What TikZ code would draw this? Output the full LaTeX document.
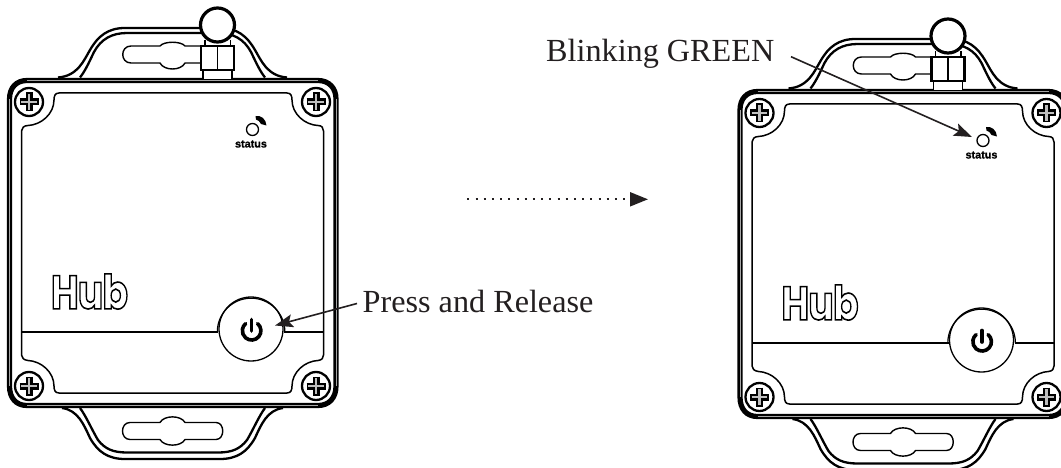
\documentclass[tikz,border=0pt]{standalone}
\usepackage{fontspec}
\usepackage{graphicx}
\usetikzlibrary{arrows.meta}
\setmainfont{Liberation Serif}
\newfontfamily\labelsans{Liberation Sans Bold}[FakeBold=1.2]
\newfontfamily\logofont{Poppins}[BoldFont=Poppins Bold]
\definecolor{ink}{HTML}{231F20}
\newcommand{\outlinetext}[1]{\special{pdf:code q 1 Tr 0.34 w 0 0 0 RG}#1\special{pdf:code Q}}
\tikzset{
  x=1pt,y=-1pt,
  earline/.style={black,line width=2.3pt,line join=round},
  bodyline/.style={black,line width=5.2pt},
  bodycore/.style={gray!70,line width=.35pt},
  panelline/.style={black,line width=1.5pt,line join=round},
  thinline/.style={black,line width=1.4pt},
  caption/.style={font=\fontsize{32.2}{32.2}\selectfont,text=ink,inner sep=0pt,anchor=base west},
  callout/.style={ink,line width=1.6pt,-{Stealth[length=18pt,width=13pt,inset=3.5pt]}},
  flow/.style={ink,line width=2pt,dash pattern=on 2pt off 6.2pt,-{Stealth[length=18pt,width=14pt,inset=0pt,sep=0pt]}},
  screwpic/.pic={
    \draw[black,line width=2.3pt,fill=white] (0,0) circle[radius=14];
    \draw[black,line width=7pt] (-9.5,0) -- (9.5,0) (0,-9.5) -- (0,9.5);
    \draw[white!75!black,line width=2.2pt] (-7.8,0) -- (7.8,0) (0,-7.8) -- (0,7.8);
  },
  hubunit/.pic={
    % ears
    \draw[earline,fill=white] (58,77.5) .. controls (78,76) and (84,60) .. (90,50) .. controls (98,36) and (108,28) .. (125,28) -- (220,28) .. controls (237,28) and (247,36) .. (255,50) .. controls (261,60) and (267,76) .. (287,77.5);
    \draw[earline] (80,77.5) .. controls (86,70) and (91,58) .. (94,52) .. controls (101,39) and (112,33) .. (127,33) -- (218,33) .. controls (233,33) and (244,39) .. (251,52) .. controls (254,58) and (259,70) .. (265,77.5);
    \draw[earline,fill=white] (62,408) .. controls (78,410) and (84,425) .. (90,438) .. controls (98,452) and (108,459) .. (125,459) -- (220,459) .. controls (237,459) and (247,452) .. (255,438) .. controls (261,425) and (267,410) .. (283,408);
    \draw[earline] (80,408) .. controls (86,416) and (92,430) .. (98,440) .. controls (105,449) and (113,452.5) .. (127,452.5) -- (218,452.5) .. controls (232,452.5) and (240,449) .. (247,440) .. controls (253,430) and (259,416) .. (265,408);
    % slots
    \draw[thinline,fill=white] (131,46) -- (160,46) .. controls (164,41) and (181,41) .. (185,46) -- (201,46) -- (201,63) -- (185,63) .. controls (181,71) and (164,71) .. (160,63) -- (131,63) .. controls (120,63) and (120,46) .. (131,46) -- cycle;
    \draw[thinline,fill=white] (130,422.5) -- (160,422.5) .. controls (164,415) and (181,415) .. (185,422.5) -- (216,422.5) .. controls (225,422.5) and (225,439.5) .. (216,439.5) -- (185,439.5) .. controls (181,447) and (164,447) .. (160,439.5) -- (130,439.5) .. controls (120,439.5) and (120,422.5) .. (130,422.5) -- cycle;
    % body
    \draw[bodyline,fill=white] (27,80.5) -- (318,80.5) .. controls (329,80.5) and (336,88) .. (336,99) -- (336,386) .. controls (336,398) and (329,405.5) .. (318,405.5) -- (27,405.5) .. controls (16,405.5) and (9.5,398) .. (9.5,386) -- (9.5,99) .. controls (9.5,88) and (16,80.5) .. (27,80.5) -- cycle;
    \draw[bodycore] (27,80.5) -- (318,80.5) (27,405.5) -- (318,405.5) (9.5,99) -- (9.5,386) (336,99) -- (336,386);
    % antenna connector
    \fill[white] (203,70) rectangle (232,79);
    \draw[thinline] (203,70) -- (203,79) (232,70) -- (232,79);
    \draw[thinline] (205,40) -- (205,46) (230.5,40) -- (230.5,46);
    \draw[black,line width=2.1pt,fill=white] (201,46) rectangle (234,70);
    \draw[black,line width=1.9pt] (217.5,46) -- (217.5,70);
    \draw[black,line width=3.2pt,fill=white] (217.5,25) circle[radius=17];
    % panel
    \draw[panelline] (59,93) -- (287,93) .. controls (291,93) and (292,96) .. (292,100) .. controls (292,114) and (305,125) .. (318,125.5) .. controls (322,125.5) and (323.5,128) .. (323.5,131) -- (323.5,355) .. controls (323.5,358) and (322,360) .. (318,360.5) .. controls (305,361) and (292,372) .. (292,386) .. controls (292,390) and (291,393) .. (287,393) -- (59,393) .. controls (55,393) and (54,390) .. (54,386) .. controls (54,372) and (41,361) .. (28,360.5) .. controls (24,360) and (21.5,358) .. (21.5,355) -- (21.5,131) .. controls (21.5,128) and (24,125.5) .. (28,125.5) .. controls (41,125) and (54,114) .. (54,100) .. controls (54,96) and (55,93) .. (59,93) -- cycle;
    % screws
    \pic at (29,102) {screwpic};
    \pic at (316,102) {screwpic};
    \pic at (29,386) {screwpic};
    \pic at (316,386) {screwpic};
    % status
    \draw[black,line width=1.3pt] (252.5,129.5) circle[radius=6];
    \fill[black] (255.5,116) .. controls (261,115) and (266,119) .. (266.5,125.5) -- (261,124) .. controls (260,121.5) and (258,120) .. (256,119.5) -- cycle;
    \node[font=\labelsans\fontsize{10.8}{11}\selectfont,inner sep=0pt] (-statuslabel) at (251,144) {status};
    % divider and button
    \draw[thinline] (21.5,332) -- (218,332) (284,332) -- (323.5,332);
    \draw[black,line width=1.3pt,fill=white] (251,329) circle[radius=32];
    \draw[black,line width=1.2pt] (217.3,332) arc[start angle=180,end angle=360,radius=33.8];
    \draw[black,line width=3.6pt,line cap=round] (257.6,323.6) arc[start angle=-50,end angle=230,radius=9.3];
    \draw[black,line width=3.6pt,line cap=round] (251.5,319.5) -- (251.5,331);
    % logo
    \node[inner sep=0pt] (-logo) at (89.5,291.5) {\resizebox{77pt}{35pt}{\logofont\bfseries\outlinetext{H\kern-.025em u\kern-.025em b}}};
  },
}
\begin{document}
\begin{tikzpicture}
\useasboundingbox (0,0) rectangle (1061,468);
\clip (0,0) rectangle (1061,468);
\fill[white] (0,0) rectangle (1061,468);
\pic (left) at (0,0) {hubunit};
\pic (right) at (730.5,11) {hubunit};
\node[caption] (press) at (362.5,312.5) {Press and Release};
\node[caption] (blink) at (546,61.7) {Blinking GREEN};
\coordinate (pressfrom) at (357,303.5);
\coordinate (pressto) at (275,325.5);
\coordinate (blinkfrom) at (791,56.7);
\coordinate (blinkto) at (972,137);
\coordinate (flowfrom) at (467.3,199.3);
\coordinate (flowto) at (648,199.3);
\draw[callout] (pressfrom) -- (pressto);
\draw[callout] (blinkfrom) -- (blinkto);
\draw[flow] (flowfrom) -- (flowto);
\end{tikzpicture}
\end{document}
